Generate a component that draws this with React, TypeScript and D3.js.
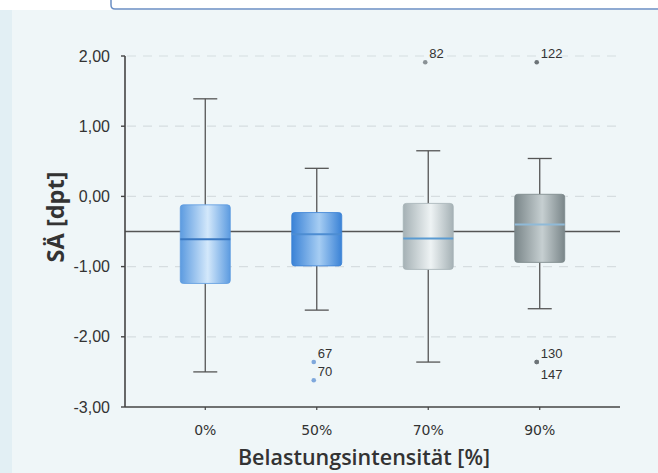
import React from "react";
import * as d3 from "d3";

// Boxplot: SÄ [dpt] by Belastungsintensität
const categories = ["0%", "50%", "70%", "90%"];
const whiskerHigh = [1.39, 0.4, 0.65, 0.54];
const q3 = [-0.12, -0.23, -0.1, 0.03];
const medians = [-0.61, -0.54, -0.6, -0.4];
const q1 = [-1.24, -0.99, -1.04, -0.94];
const whiskerLow = [-2.5, -1.62, -2.36, -1.6];

const outlierCats = ["50%", "50%", "70%", "90%", "90%", "90%"];
const outlierValues = [-2.36, -2.62, 1.91, 1.91, -2.36, -2.36];
const outlierLabels = ["67", "70", "82", "122", "130", "147"];

const yTicks = [2, 1, 0, -1, -2, -3];
const referenceValue = -0.5;

const boxColors = [
  { edge: "#5c9be0", mid: "#d3e8fb", median: "#3a78c2", dot: "#7fa8dc" },
  { edge: "#3a82d6", mid: "#a6cdf3", median: "#4d8dd2", dot: "#7fa8dc" },
  { edge: "#a5b1b5", mid: "#eef3f4", median: "#5a9bd2", dot: "#8a9296" },
  { edge: "#7a8689", mid: "#c6cfd1", median: "#8fbad8", dot: "#6d7478" },
];

const W = 658, H = 473;
const axisLeft = 125, axisRight = 620;
const plotTop = 56, plotBottom = 407;
const boxW = 50, capW = 24;

const fmt = (v: number) => v.toFixed(2).replace(".", ",");

export default function App() {
  const y = d3.scaleLinear().domain([-3, 2]).range([plotBottom, plotTop]);
  const x = d3.scalePoint<string>().domain(categories).range([axisLeft, axisRight]).padding(0.72);

  // second outlier with the same value gets its label below the point
  const seen: Record<string, number> = {};

  return (
    <svg width={W} height={H} style={{ position: "absolute", left: 0, top: 0 }}
      fontFamily="'Liberation Sans', Arial, sans-serif">
      <defs>
        {boxColors.map((c, i) => (
          <linearGradient key={i} id={"boxgrad" + i} x1="0" x2="1" y1="0" y2="0">
            <stop offset="0" stopColor={c.edge} />
            <stop offset="0.55" stopColor={c.mid} />
            <stop offset="1" stopColor={c.edge} />
          </linearGradient>
        ))}
      </defs>

      {/* page background */}
      <rect x={0} y={0} width={W} height={H} fill="#eff6f8" />
      <rect x={0} y={0} width={12} height={H} fill="#e2eff4" />
      <rect x={0} y={0} width={W} height={10} fill="#ffffff" />
      <path d={`M111,0 V5 Q111,9 115,9 H${W}`} fill="none" stroke="#6b8fc4" strokeWidth={1.5} />

      {/* grid */}
      {yTicks.filter(t => t > -3).map(t => (
        <line key={"g" + t} x1={axisLeft + 2} x2={axisRight} y1={y(t)} y2={y(t)}
          stroke="#d6dde0" strokeWidth={1.2} strokeDasharray="9 7" />
      ))}

      {/* reference line */}
      <line x1={axisLeft} x2={axisRight} y1={y(referenceValue)} y2={y(referenceValue)}
        stroke="#555" strokeWidth={1.5} />

      {/* boxes */}
      {categories.map((c, i) => {
        const cx = x(c) as number;
        const col = boxColors[i];
        return (
          <g key={c}>
            <line x1={cx} x2={cx} y1={y(whiskerHigh[i])} y2={y(q3[i])} stroke="#555" strokeWidth={1.3} />
            <line x1={cx} x2={cx} y1={y(q1[i])} y2={y(whiskerLow[i])} stroke="#555" strokeWidth={1.3} />
            <line x1={cx - capW / 2} x2={cx + capW / 2} y1={y(whiskerHigh[i])} y2={y(whiskerHigh[i])} stroke="#555" strokeWidth={1.3} />
            <line x1={cx - capW / 2} x2={cx + capW / 2} y1={y(whiskerLow[i])} y2={y(whiskerLow[i])} stroke="#555" strokeWidth={1.3} />
            <rect x={cx - boxW / 2} y={y(q3[i])} width={boxW} height={y(q1[i]) - y(q3[i])}
              rx={3} fill={`url(#boxgrad${i})`} stroke={col.edge} strokeWidth={0.8} />
            <line x1={cx - boxW / 2} x2={cx + boxW / 2} y1={y(medians[i])} y2={y(medians[i])}
              stroke={col.median} strokeWidth={2} />
          </g>
        );
      })}

      {/* outliers */}
      {outlierValues.map((v, i) => {
        const cat = outlierCats[i];
        const ci = categories.indexOf(cat);
        const cx = (x(cat) as number) - 3;
        const key = cat + v;
        seen[key] = (seen[key] || 0) + 1;
        const below = seen[key] > 1;
        return (
          <g key={"o" + i}>
            <circle cx={cx} cy={y(v)} r={2.3} fill={boxColors[ci].dot} />
            <text x={cx + 4} y={below ? y(v) + 17 : y(v) - 4} fontSize={13} fill="#333">{outlierLabels[i]}</text>
          </g>
        );
      })}

      {/* axes */}
      <line x1={axisLeft} x2={axisLeft} y1={plotTop} y2={plotBottom} stroke="#444" strokeWidth={1.6} />
      <line x1={axisLeft} x2={axisRight} y1={plotBottom} y2={plotBottom} stroke="#444" strokeWidth={1.6} />
      {yTicks.map(t => (
        <g key={"t" + t}>
          <line x1={axisLeft - 4} x2={axisLeft} y1={y(t)} y2={y(t)} stroke="#444" strokeWidth={1.4} />
          <text x={110} y={y(t)} dy="0.35em" textAnchor="end" fontSize={16} fill="#333">{fmt(t)}</text>
        </g>
      ))}
      {categories.map(c => (
        <g key={"x" + c}>
          <line x1={x(c)} x2={x(c)} y1={plotBottom} y2={plotBottom + 3} stroke="#444" strokeWidth={1.2} />
          <text x={x(c)} y={435} textAnchor="middle" fontSize={14} fill="#333"
            fontFamily="'DejaVu Sans', sans-serif">{c}</text>
        </g>
      ))}

      {/* titles */}
      <text x={364} y={465} textAnchor="middle" fontSize={21.5} fontWeight={600} fill="#333"
        fontFamily="'Open Sans', sans-serif">Belastungsintensität [%]</text>
      <text transform={`translate(64,217) rotate(-90)`} textAnchor="middle" fontSize={23.5}
        fontWeight={700} fill="#333" fontFamily="'Open Sans', sans-serif">SÄ [dpt]</text>
    </svg>
  );
}
